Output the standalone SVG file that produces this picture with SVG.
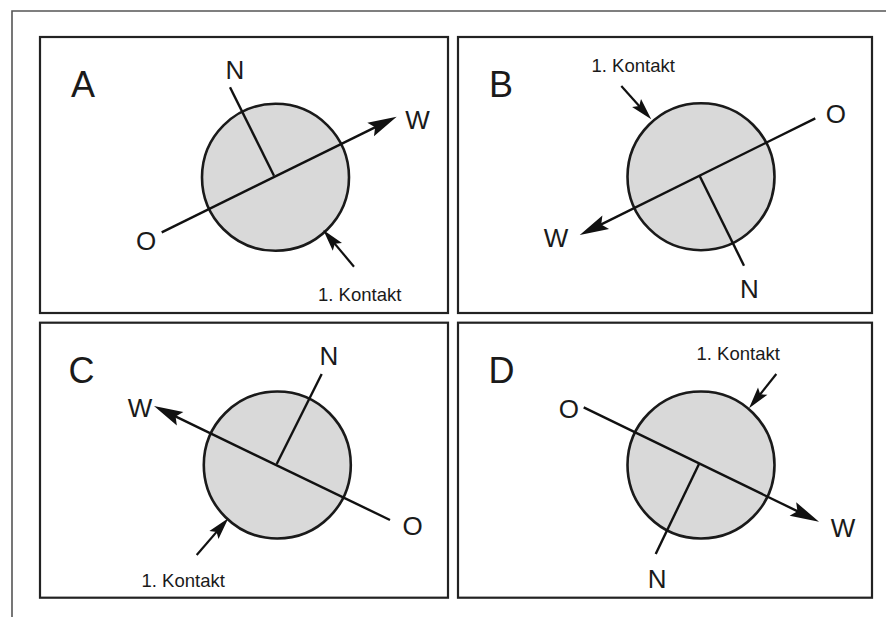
<svg xmlns="http://www.w3.org/2000/svg" width="886" height="617" viewBox="0 0 886 617">
<style>
.frame{fill:none;stroke:#555;stroke-width:1.6}
.panel{fill:#fff;stroke:#222;stroke-width:2.2}
.disc{fill:#d9d9d9;stroke:#1a1a1a;stroke-width:2.6}
.ln{stroke:#111;stroke-width:2.4;fill:none}
.sl{stroke:#111;stroke-width:2.2;fill:none}
.head{fill:#111}
.big{font-family:"Liberation Sans",Arial,sans-serif;font-size:36px;fill:#1a1a1a}
.lab{font-family:"Liberation Sans",Arial,sans-serif;font-size:26px;fill:#1a1a1a;text-anchor:middle}
.kt{font-family:"Liberation Sans",Arial,sans-serif;font-size:18.5px;fill:#1a1a1a}
</style>
<defs>
<marker id="bigArrow" markerUnits="userSpaceOnUse" orient="auto" markerWidth="40" markerHeight="20" viewBox="-20 -10 40 20" refX="0" refY="0" overflow="visible">
<path class="head" d="M10,0 L-19,-7.5 L-14,0 L-19,7.5 Z"/>
</marker>
<marker id="smallArrow" markerUnits="userSpaceOnUse" orient="auto" markerWidth="30" markerHeight="16" viewBox="-15 -8 30 16" refX="0" refY="0" overflow="visible">
<path class="head" d="M8,0 L-14,-6 L-10,0 L-14,6 Z"/>
</marker>
</defs>
<rect width="886" height="617" fill="#fff"/>
<path class="frame" d="M886,11 H12 V617"/>

<g id="panel-A">
<rect class="panel" x="40" y="37" width="408" height="276"/>
<circle class="disc" cx="275.5" cy="177.3" r="73.5"/>
<line class="ln" x1="230" y1="87.3" x2="274" y2="175.7"/>
<line class="ln" x1="161.7" y1="232.3" x2="387.7" y2="121.1" marker-end="url(#bigArrow)"/>
<line class="sl" x1="354" y1="266.7" x2="328.4" y2="236.1" marker-end="url(#smallArrow)"/>
<text class="big" x="71" y="96.7">A</text>
<text class="lab" x="235" y="79">N</text>
<text class="lab" x="417.5" y="129">W</text>
<text class="lab" x="146" y="249.5">O</text>
<text class="kt" x="318" y="301">1. Kontakt</text>
</g>

<g id="panel-B">
<rect class="panel" x="458" y="37" width="414" height="276"/>
<circle class="disc" cx="701" cy="176.7" r="73.5"/>
<line class="ln" x1="699.7" y1="176" x2="744" y2="265.7"/>
<line class="ln" x1="815.3" y1="118.3" x2="588.7" y2="230.6" marker-end="url(#bigArrow)"/>
<line class="sl" x1="621.3" y1="86" x2="645.9" y2="113.4" marker-end="url(#smallArrow)"/>
<text class="big" x="489" y="96.7">B</text>
<text class="lab" x="835.8" y="122.5">O</text>
<text class="lab" x="556" y="246.5">W</text>
<text class="lab" x="749.3" y="298">N</text>
<text class="kt" x="591.5" y="71.7">1. Kontakt</text>
</g>

<g id="panel-C">
<rect class="panel" x="40" y="322.7" width="408" height="275"/>
<circle class="disc" cx="277.3" cy="465" r="73.5"/>
<line class="ln" x1="276.7" y1="464" x2="321.7" y2="374"/>
<line class="ln" x1="390" y1="520" x2="163" y2="410.4" marker-end="url(#bigArrow)"/>
<line class="sl" x1="196.7" y1="555" x2="223.1" y2="524.4" marker-end="url(#smallArrow)"/>
<text class="big" x="68.5" y="383.3">C</text>
<text class="lab" x="329" y="365">N</text>
<text class="lab" x="140" y="416.5">W</text>
<text class="lab" x="412.5" y="535">O</text>
<text class="kt" x="141.5" y="587.3">1. Kontakt</text>
</g>

<g id="panel-D">
<rect class="panel" x="458" y="322.7" width="414" height="275"/>
<circle class="disc" cx="701" cy="465" r="73.5"/>
<line class="ln" x1="699" y1="464" x2="655.7" y2="554"/>
<line class="ln" x1="583.7" y1="407.3" x2="810" y2="517.3" marker-end="url(#bigArrow)"/>
<line class="sl" x1="776.3" y1="374" x2="754" y2="402.1" marker-end="url(#smallArrow)"/>
<text class="big" x="488.5" y="382.7">D</text>
<text class="lab" x="568.8" y="417.5">O</text>
<text class="lab" x="843" y="537">W</text>
<text class="lab" x="657.2" y="588.3">N</text>
<text class="kt" x="696.5" y="360">1. Kontakt</text>
</g>
</svg>
